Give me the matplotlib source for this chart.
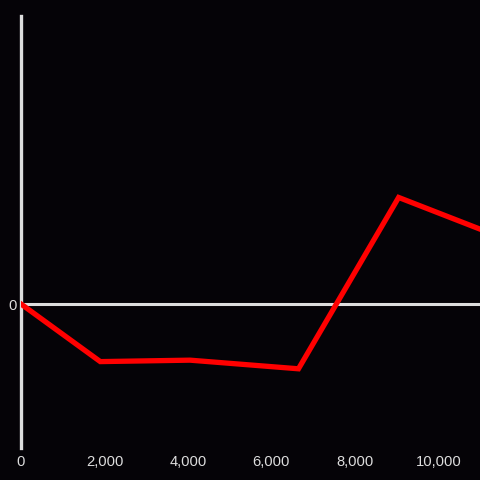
import matplotlib
matplotlib.use("Agg")
import matplotlib.pyplot as plt
from matplotlib.ticker import FuncFormatter

# data
xs = [0, 1900, 4050, 6650, 9050, 11000]
ys = [0, -0.40, -0.39, -0.45, 0.74, 0.52]
xticks = [0, 2000, 4000, 6000, 8000, 10000]

bg = "#050307"
fg = "#dddddd"

plt.rcParams["font.family"] = ["Liberation Sans", "DejaVu Sans"]

fig = plt.figure(figsize=(4.8, 4.8), dpi=100, facecolor=bg)
ax = fig.add_axes([21 / 480, 32 / 480, 1 - 21 / 480, 432 / 480], facecolor=bg)

ax.plot(xs, ys, color="#ff0000", lw=3.8, solid_joinstyle="miter", zorder=3)
ax.axhline(0, color=fg, lw=2.2, zorder=2)

ax.set_xlim(0, 11000)
ax.set_ylim(-1, 2)

for s in ["top", "right", "bottom"]:
    ax.spines[s].set_visible(False)
ax.spines["left"].set_color(fg)
ax.spines["left"].set_linewidth(2.4)

ax.set_xticks(xticks)
ax.xaxis.set_major_formatter(FuncFormatter(lambda v, p: f"{int(v):,}"))
ax.set_yticks([0])
ax.set_yticklabels(["0"])
ax.tick_params(axis="both", length=0, colors=fg, labelsize=10.6)
ax.tick_params(axis="x", pad=5)
ax.tick_params(axis="y", pad=3)

fig.savefig("out.png", dpi=100, facecolor=bg)
